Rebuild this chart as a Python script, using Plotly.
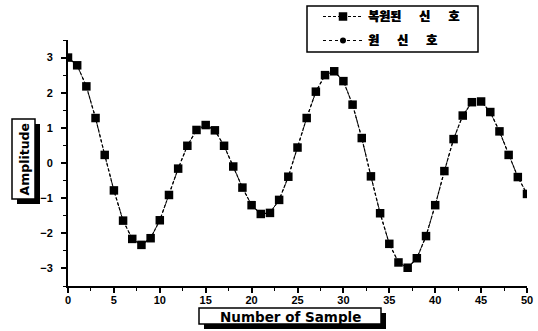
import plotly.graph_objects as go

# ---- data ----
samples = list(range(0, 51))
reconstructed = [3.00, 2.78, 2.18, 1.28, 0.23, -0.78, -1.64, -2.16, -2.33, -2.14,
                 -1.63, -0.91, -0.16, 0.49, 0.94, 1.08, 0.93, 0.49, -0.10, -0.70,
                 -1.20, -1.45, -1.42, -1.05, -0.39, 0.44, 1.28, 2.03, 2.50, 2.61,
                 2.33, 1.66, 0.71, -0.38, -1.43, -2.30, -2.83, -2.98, -2.71, -2.08,
                 -1.20, -0.23, 0.68, 1.35, 1.73, 1.75, 1.45, 0.90, 0.23, -0.40, -0.88]
original = [3.00, 2.78, 2.18, 1.28, 0.23, -0.78, -1.64, -2.16, -2.33, -2.14,
            -1.63, -0.91, -0.16, 0.49, 0.94, 1.08, 0.93, 0.49, -0.10, -0.70,
            -1.20, -1.45, -1.42, -1.05, -0.39, 0.44, 1.28, 2.03, 2.50, 2.61,
            2.33, 1.66, 0.71, -0.38, -1.43, -2.30, -2.83, -2.98, -2.71, -2.08,
            -1.20, -0.23, 0.68, 1.35, 1.73, 1.75, 1.45, 0.90, 0.23, -0.40, -0.88]
name_recon = "복원된\u3000\u2002신\u3000\u2002호"
name_orig = "원\u3000\u2002신\u3000\u2002호"
x_title = "Number of Sample"
y_title = "Amplitude"

W, H = 538, 331
L, R, T, B = 68, 11, 40, 45
PW, PH = W - L - R, H - T - B

def px(x):
    return (x - L) / PW

def py(y):
    return (H - B - y) / PH

fig = go.Figure()
fig.add_trace(go.Scatter(
    x=samples, y=original, name=name_orig, mode="lines+markers",
    line=dict(color="black", width=1, dash="dot"),
    marker=dict(symbol="circle", size=6, color="black"),
    legendgroup="b", legendrank=2,
))
fig.add_trace(go.Scatter(
    x=samples, y=reconstructed, name=name_recon, mode="lines+markers",
    line=dict(color="black", width=1.2, dash="3px,2px"),
    marker=dict(symbol="square", size=8.5, color="black"),
    legendgroup="a", legendrank=1,
))

tickfont = dict(family="Liberation Sans", size=11, color="black", weight="bold")
fig.update_xaxes(
    range=[0, 50], dtick=5, tick0=0, showgrid=False, zeroline=False,
    showline=True, linecolor="black", linewidth=2,
    ticks="outside", ticklen=5, tickwidth=1.5, tickcolor="black",
    minor=dict(dtick=2.5, ticks="outside", ticklen=3, tickwidth=1.2, tickcolor="black"),
    tickfont=tickfont, ticklabelstandoff=-2,
)
fig.update_yaxes(
    range=[-3.5, 3.5], dtick=1, tick0=0, showgrid=False, zeroline=False,
    showline=True, linecolor="black", linewidth=2,
    ticks="outside", ticklen=5, tickwidth=1.5, tickcolor="black",
    minor=dict(dtick=0.5, ticks="outside", ticklen=3, tickwidth=1.2, tickcolor="black"),
    tickfont=tickfont, ticklabelstandoff=6,
)

shapes = []
def boxed(x0, y0, x1, y1, off=5):
    shapes.append(dict(type="rect", xref="paper", yref="paper",
                       x0=px(x0 + off), x1=px(x1 + off), y0=py(y1 + off), y1=py(y0 + off),
                       fillcolor="black", line=dict(width=0), layer="below"))
    shapes.append(dict(type="rect", xref="paper", yref="paper",
                       x0=px(x0), x1=px(x1), y0=py(y1), y1=py(y0),
                       fillcolor="white", line=dict(color="black", width=1.5), layer="below"))

boxed(12, 119, 35, 199)
boxed(199, 308, 381, 324)
# legend frame
shapes.append(dict(type="rect", xref="paper", yref="paper",
                   x0=px(307), x1=px(478), y0=py(52), y1=py(6),
                   fillcolor="white", line=dict(color="black", width=1.5), layer="below"))

annotations = [
    dict(text="<b>" + y_title + "</b>", xref="paper", yref="paper",
         x=px(23.5), y=py(159), xanchor="center", yanchor="middle",
         textangle=-90, showarrow=False,
         font=dict(family="DejaVu Sans", size=12.5, color="black")),
    dict(text="<b>" + x_title + "</b>", xref="paper", yref="paper",
         x=px(290), y=py(316.5), xanchor="center", yanchor="middle", showarrow=False,
         font=dict(family="DejaVu Sans", size=13.5, color="black")),
]

fig.update_layout(
    width=W, height=H,
    margin=dict(l=L, r=R, t=T, b=B, autoexpand=False),
    paper_bgcolor="white", plot_bgcolor="white",
    shapes=shapes, annotations=annotations,
    legend=dict(
        x=px(318), y=py(2), xanchor="left", yanchor="top",
        borderwidth=0, bgcolor="rgba(0,0,0,0)",
        font=dict(family="Noto Sans CJK KR", size=12, color="black", weight=900,
                  shadow="0.5px 0 0 black"),
        traceorder="grouped", tracegroupgap=5, itemwidth=40,
    ),
    showlegend=True,
)

fig.write_html("out.html")
